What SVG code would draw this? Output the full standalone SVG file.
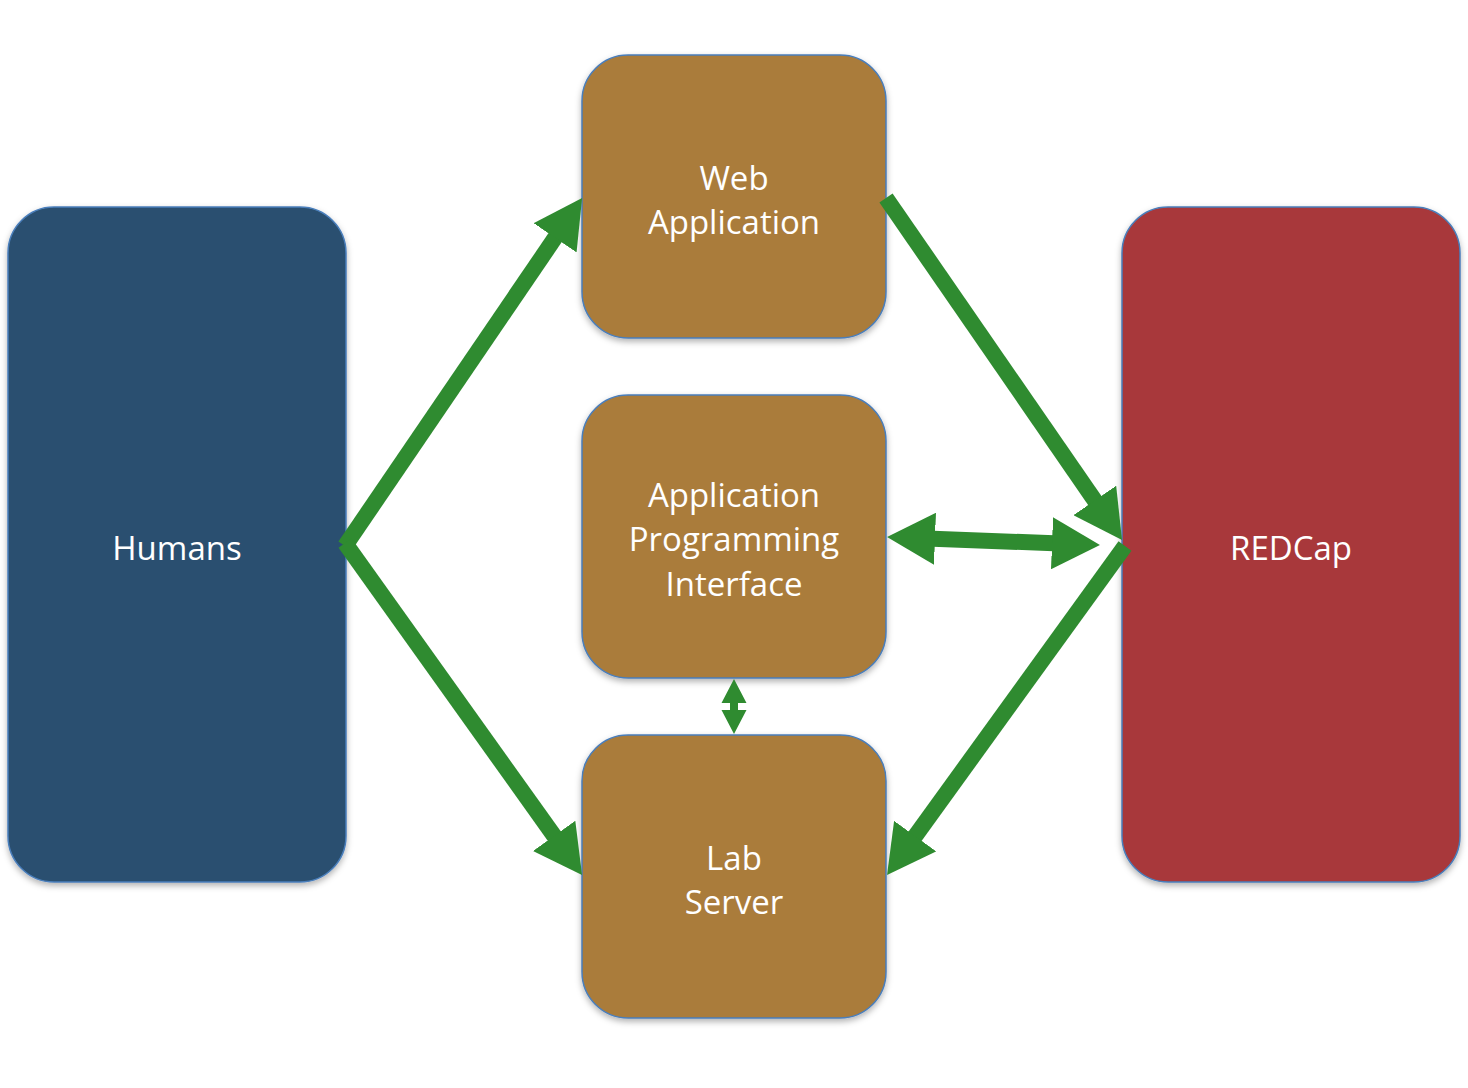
<svg xmlns="http://www.w3.org/2000/svg" width="1468" height="1088" viewBox="0 0 1468 1088">
<style>
.box{stroke:#4A7EBB;stroke-width:1.5;filter:url(#sh)}
.lbl{font-family:"Open Sans","Noto Sans","Liberation Sans",sans-serif;font-size:33px;fill:#FFFFFF;text-anchor:middle}
.conn{stroke:#2F8B30;stroke-width:16;fill:none}
</style>
<defs>
<filter id="sh" x="-10%" y="-10%" width="120%" height="120%">
<feDropShadow dx="0" dy="3" stdDeviation="3" flood-color="#000" flood-opacity="0.3"/>
</filter>
<marker id="ah" viewBox="0 0 48 52" refX="2" refY="26" markerWidth="48" markerHeight="52" markerUnits="userSpaceOnUse" orient="auto-start-reverse">
<path d="M0,0 L48,26 L0,52 z" fill="#2F8B30"/>
</marker>
</defs>
<rect width="1468" height="1088" fill="#FFFFFF"/>
<g id="humans">
<rect class="box" x="8" y="207" width="338" height="675" rx="46" fill="#2A5070"/>
<text class="lbl" x="177" y="560">Humans</text>
</g>
<g id="webapp">
<rect class="box" x="582" y="55" width="304" height="283" rx="46" fill="#AA7B3B"/>
<text class="lbl" x="734" y="190">Web</text>
<text class="lbl" x="734" y="234">Application</text>
</g>
<g id="api">
<rect class="box" x="582" y="395" width="304" height="283" rx="46" fill="#AA7B3B"/>
<text class="lbl" x="734" y="507">Application</text>
<text class="lbl" x="734" y="551">Programming</text>
<text class="lbl" x="734" y="596">Interface</text>
</g>
<g id="labserver">
<rect class="box" x="582" y="735" width="304" height="283" rx="46" fill="#AA7B3B"/>
<text class="lbl" x="734" y="870">Lab</text>
<text class="lbl" x="734" y="914">Server</text>
</g>
<g id="redcap">
<rect class="box" x="1122" y="207" width="338" height="675" rx="46" fill="#A8393A"/>
<text class="lbl" x="1291" y="560">REDCap</text>
</g>
<g id="connectors">
<line class="conn" x1="345" y1="546" x2="556.2" y2="236.1" marker-end="url(#ah)"/>
<line class="conn" x1="345" y1="543" x2="555.3" y2="837.5" marker-end="url(#ah)"/>
<line class="conn" x1="886" y1="198" x2="1095.9" y2="502.1" marker-end="url(#ah)"/>
<line class="conn" x1="1125" y1="546" x2="914" y2="837.7" marker-end="url(#ah)"/>
<line class="conn" x1="933" y1="538.7" x2="1054" y2="543.3" marker-start="url(#ah)" marker-end="url(#ah)"/>
<path d="M734,679 L746.5,703 L738,703 L738,710 L746.5,710 L734,734 L721.5,710 L730,710 L730,703 L721.5,703 z" fill="#2F8B30"/>
</g>
</svg>
